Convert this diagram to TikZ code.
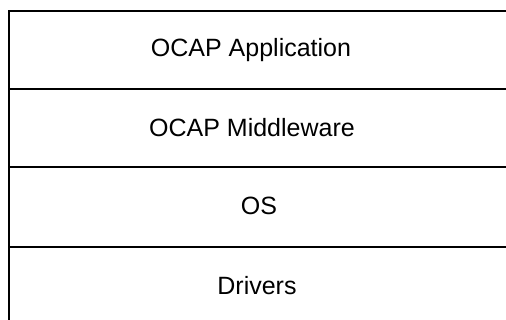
\documentclass[tikz,border=0pt]{standalone}
\usepackage{fontspec}
\setmainfont{Liberation Sans}
\begin{document}
\begin{tikzpicture}[x=1pt,y=-1pt,line width=1.4pt,
        layer/.style={anchor=base,inner sep=0pt,font=\fontsize{25}{30}\selectfont}]
            \useasboundingbox (0,0) rectangle (506,320);
            \clip (0,0) rectangle (506,320);
            \draw (9, 11) rectangle (520, 89);
            \draw (9, 89) rectangle (520, 167);
            \draw (9, 167) rectangle (520, 247);
            \draw (9, 247) rectangle (520, 330);
            \node[layer] (app) at (251, 57) {OCAP Application};
            \node[layer] (mw) at (252, 137) {OCAP Middleware};
            \node[layer] (os) at (259, 215) {OS};
            \node[layer] (drv) at (257, 295) {Drivers};
        \end{tikzpicture}
\end{document}
